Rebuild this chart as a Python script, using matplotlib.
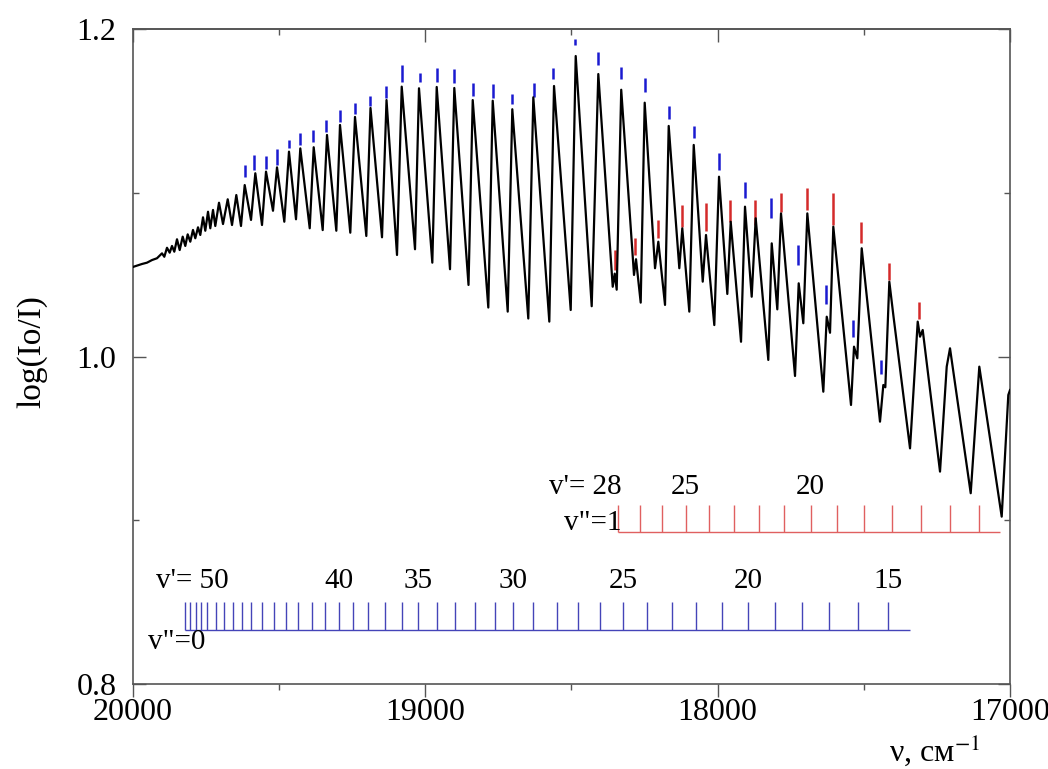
import matplotlib
matplotlib.use("Agg")
from matplotlib import pyplot as plt
from matplotlib.ticker import MultipleLocator, FormatStrFormatter

plt.rcParams['font.family'] = ['Liberation Serif', 'DejaVu Serif']
plt.rcParams['mathtext.fontset'] = 'stix'

nu = [20000.0, 19969.2, 19952.1, 19935.0, 19917.9, 19900.8, 19892.9, 19883.7, 19874.5, 19866.6,
      19858.7, 19849.5, 19840.3, 19830.0, 19821.1, 19812.9, 19804.0, 19794.8, 19786.9, 19777.6,
      19769.8, 19760.5, 19752.7, 19743.4, 19735.6, 19726.3, 19718.5, 19705.8, 19692.1, 19676.0,
      19661.3, 19646.6, 19630.6, 19617.9, 19596.3, 19581.6, 19558.7, 19545.0, 19521.1, 19507.4,
      19482.4, 19466.4, 19442.4, 19427.7, 19395.5, 19381.9, 19351.1, 19336.4, 19304.5, 19291.9,
      19256.7, 19240.6, 19201.9, 19187.6, 19148.2, 19132.8, 19096.9, 19080.8, 19035.3, 19021.7,
      18976.1, 18961.1, 18915.6, 18900.9, 18852.3, 18837.9, 18784.6, 18769.5, 18718.2, 18702.5,
      18647.8, 18630.6, 18575.9, 18559.8, 18502.7, 18485.6, 18430.9, 18408.3, 18359.0, 18352.2,
      18345.4, 18329.9, 18286.2, 18279.3, 18263.3, 18249.6, 18214.3, 18203.0, 18180.1, 18167.5,
      18131.2, 18121.0, 18097.0, 18081.9, 18051.1, 18039.9, 18011.5, 17995.4, 17967.0, 17955.4,
      17920.1, 17906.5, 17883.6, 17869.9, 17826.8, 17815.1, 17796.0, 17783.3, 17735.4, 17722.8,
      17707.0, 17693.3, 17638.6, 17626.9, 17615.7, 17604.4, 17543.9, 17533.6, 17522.3, 17507.3,
      17444.7, 17433.3, 17426.5, 17412.8, 17399.1, 17342.0, 17315.7, 17307.8, 17298.6, 17239.4,
      17216.5, 17205.2, 17134.4, 17105.0, 17028.4, 17005.8, 17000.0]
absorb = [1.0547, 1.0565, 1.0573, 1.0589, 1.0600, 1.0630, 1.0609, 1.0664, 1.0634, 1.0675,
          1.0640, 1.0716, 1.0650, 1.0732, 1.0675, 1.0746, 1.0701, 1.0773, 1.0722, 1.0789,
          1.0742, 1.0850, 1.0768, 1.0884, 1.0783, 1.0895, 1.0797, 1.0939, 1.0809, 1.0960,
          1.0803, 1.0986, 1.0797, 1.1047, 1.0834, 1.1119, 1.0803, 1.1129, 1.0890, 1.1155,
          1.0823, 1.1251, 1.0838, 1.1271, 1.0783, 1.1278, 1.0772, 1.1353, 1.0768, 1.1414,
          1.0756, 1.1463, 1.0736, 1.1518, 1.0728, 1.1566, 1.0620, 1.1648, 1.0655, 1.1638,
          1.0573, 1.1646, 1.0533, 1.1640, 1.0437, 1.1566, 1.0299, 1.1562, 1.0274, 1.1510,
          1.0232, 1.1583, 1.0213, 1.1652, 1.0284, 1.1835, 1.0307, 1.1725, 1.0426, 1.0506,
          1.0408, 1.1629, 1.0498, 1.0594, 1.0329, 1.1550, 1.0539, 1.0701, 1.0315, 1.1408,
          1.0539, 1.0783, 1.0274, 1.1292, 1.0457, 1.0742, 1.0192, 1.1098, 1.0382, 1.0823,
          1.0090, 1.0915, 1.0365, 1.0844, 0.9979, 1.0691, 1.0288, 1.0874, 0.9881, 1.0447,
          1.0203, 1.0874, 0.9785, 1.0243, 1.0145, 1.0793, 0.9704, 1.0060, 0.9989, 1.0661,
          0.9602, 0.9826, 0.9812, 1.0457, 1.0253, 0.9439, 1.0213, 1.0121, 1.0162, 0.9297,
          0.9938, 1.0050, 0.9165, 0.9938, 0.9022, 0.9765, 0.9795]

#--- band marks over the trace: v''=0 (blue) and v''=1 (red)
blue_nu = [19617.9, 19585.0, 19545.0, 19507.4, 19466.4, 19428.7, 19384.3, 19339.8, 19291.9, 19240.6,
           19189.3, 19134.5, 19080.8, 19018.2, 18961.1, 18900.9, 18837.9, 18769.5, 18702.5, 18629.3,
           18562.2, 18488.0, 18410.4, 18331.7, 18248.5, 18167.5, 18080.9, 17995.4, 17906.5, 17818.5,
           17726.2, 17630.4, 17538.1, 17442.3]
blue_lo = [1.1094, 1.1139, 1.1143, 1.1169, 1.1271, 1.1292, 1.1310, 1.1371, 1.1432, 1.1481,
           1.1530, 1.1579, 1.1678, 1.1678, 1.1678, 1.1672, 1.1591, 1.1580, 1.1542, 1.1587,
           1.1693, 1.1902, 1.1780, 1.1693, 1.1617, 1.1449, 1.1333, 1.1139, 1.0966, 1.0844,
           1.0559, 1.0321, 1.0121, 0.9893]
blue_hi = [1.1169, 1.1231, 1.1224, 1.1265, 1.1322, 1.1365, 1.1383, 1.1444, 1.1505, 1.1548,
           1.1591, 1.1652, 1.1780, 1.1729, 1.1762, 1.1756, 1.1672, 1.1662, 1.1603, 1.1672,
           1.1762, 1.1939, 1.1858, 1.1766, 1.1699, 1.1530, 1.1409, 1.1243, 1.1067, 1.0966,
           1.0681, 1.0437, 1.0223, 0.9979]
red_nu = [18352.2, 18281.7, 18204.1, 18122.0, 18040.9, 17957.8, 17872.3, 17783.3, 17693.3,
          17604.4, 17509.7, 17412.8, 17312.3]
red_lo = [1.0528, 1.0620, 1.0724, 1.0793, 1.0766, 1.0823, 1.0803, 1.0884, 1.0895,
          1.0803, 1.0691, 1.0467, 1.0227]
red_hi = [1.0650, 1.0724, 1.0834, 1.0925, 1.0937, 1.0956, 1.0956, 1.0999, 1.1029,
          1.1000, 1.0823, 1.0571, 1.0335]

#--- assignment ladders
ladder0_nu = [19822.1, 19805.0, 19785.5, 19767.4, 19747.9, 19717.1, 19687.7, 19657.9, 19627.1, 19596.3,
              19557.7, 19517.7, 19476.6, 19434.5, 19388.7, 19343.2, 19295.3, 19246.4, 19195.1, 19137.9,
              19080.8, 19024.0, 18961.1, 18898.5, 18830.1, 18761.7, 18699.1, 18630.7, 18550.6, 18477.7,
              18402.5, 18322.8, 18240.7, 18157.2, 18074.1, 17984.1, 17895.2, 17803.8, 17710.5, 17618.1,
              17518.9, 17418.3]
ladder0_vp = [56, 55, 54, 53, 52, 51, 50, 49, 48, 47, 46, 45, 44, 43, 42, 41, 40, 39, 38, 37, 36,
              35, 34, 33, 32, 31, 30, 29, 28, 27, 26, 25, 24, 23, 22, 21, 20, 19, 18, 17, 16, 15]
ladder0_marked = [40, 35, 30, 25, 20, 15]
ladder0_end = 17342.0

ladder1_nu = [18339.9, 18265.7, 18189.4, 18109.3, 18028.6, 17944.1, 17858.6, 17772.0, 17681.7,
              17590.7, 17498.4, 17402.6, 17305.4, 17205.2, 17105.0]
ladder1_vp = [28, 27, 26, 25, 24, 23, 22, 21, 20, 19, 18, 17, 16, 15, 14]
ladder1_marked = [25, 20]
ladder1_end = 17034.2

#---
fig = plt.figure(figsize=(10.48, 7.69), dpi=100)
ax = fig.add_axes([133/1048, 1-684/769, 877/1048, 655/769])

ax.plot(nu, absorb, color='k', linewidth=1.6, zorder=3)
ax.vlines(blue_nu, blue_lo, blue_hi, color='#1a1ad0', linewidth=1.8)
ax.vlines(red_nu, red_lo, red_hi, color='#d42a2a', linewidth=1.8)

# v''=0 ladder
base0, top0 = 0.833, 0.8503
ax.hlines(base0, ladder0_nu[0], ladder0_end, color='#4444b8', linewidth=1.0)
ax.vlines(ladder0_nu, base0, top0, color='#4444b8', linewidth=1.0)
for v in ladder0_marked:
    ax.text(ladder0_nu[ladder0_vp.index(v)], 0.8629, str(v), fontsize=21,
            ha='center', va='center')
ax.text(ladder0_nu[0] + 100, 0.8629, "v'= 50", fontsize=21, ha='left', va='center')
ax.text(ladder0_nu[0] + 125, 0.8257, 'v"=0', fontsize=21, ha='left', va='center')

# v''=1 ladder
base1, top1 = 0.893, 0.9093
ax.hlines(base1, ladder1_nu[0], ladder1_end, color='#e06060', linewidth=1.0)
ax.vlines(ladder1_nu, base1, top1, color='#e06060', linewidth=1.0)
for v in ladder1_marked:
    ax.text(ladder1_nu[ladder1_vp.index(v)], 0.9203, str(v), fontsize=21,
            ha='center', va='center')
ax.text(ladder1_nu[0] - 10, 0.9203, "v'= 28", fontsize=21, ha='right', va='center')
ax.text(ladder1_nu[0] - 10, 0.8983, 'v"=1', fontsize=21, ha='right', va='center')

ax.set_xlim(20000, 17000)
ax.set_ylim(0.8, 1.2)
ax.xaxis.set_major_locator(MultipleLocator(1000))
ax.xaxis.set_minor_locator(MultipleLocator(500))
ax.yaxis.set_major_locator(MultipleLocator(0.2))
ax.yaxis.set_minor_locator(MultipleLocator(0.1))
ax.yaxis.set_major_formatter(FormatStrFormatter('%.1f'))

ax.tick_params(axis='x', which='both', direction='out', colors='#555555', labelcolor='k',
               labelsize=23, pad=1)
ax.tick_params(axis='y', which='both', direction='in', right=True, colors='#555555',
               labelcolor='k', labelsize=23, pad=12)
ax.tick_params(which='major', length=9, width=1)
ax.tick_params(which='minor', length=4.5, width=1)
top = ax.secondary_xaxis('top')
top.xaxis.set_major_locator(MultipleLocator(1000))
top.xaxis.set_minor_locator(MultipleLocator(500))
top.tick_params(which='both', direction='in', labeltop=False, colors='#555555', width=1)
top.tick_params(which='major', length=9)
top.tick_params(which='minor', length=4.5)
for s in list(ax.spines.values()) + list(top.spines.values()):
    s.set_color('#555555')
    s.set_linewidth(1.2)

fig.text(32/1048, 1-352/769, 'log(Io/I)', rotation=90, fontsize=24, ha='center', va='center')
fig.text(935/1048, 1-750/769, 'ν, см$^{-1}$', fontsize=23, ha='center', va='center')

fig.savefig('out.png', dpi=100)
